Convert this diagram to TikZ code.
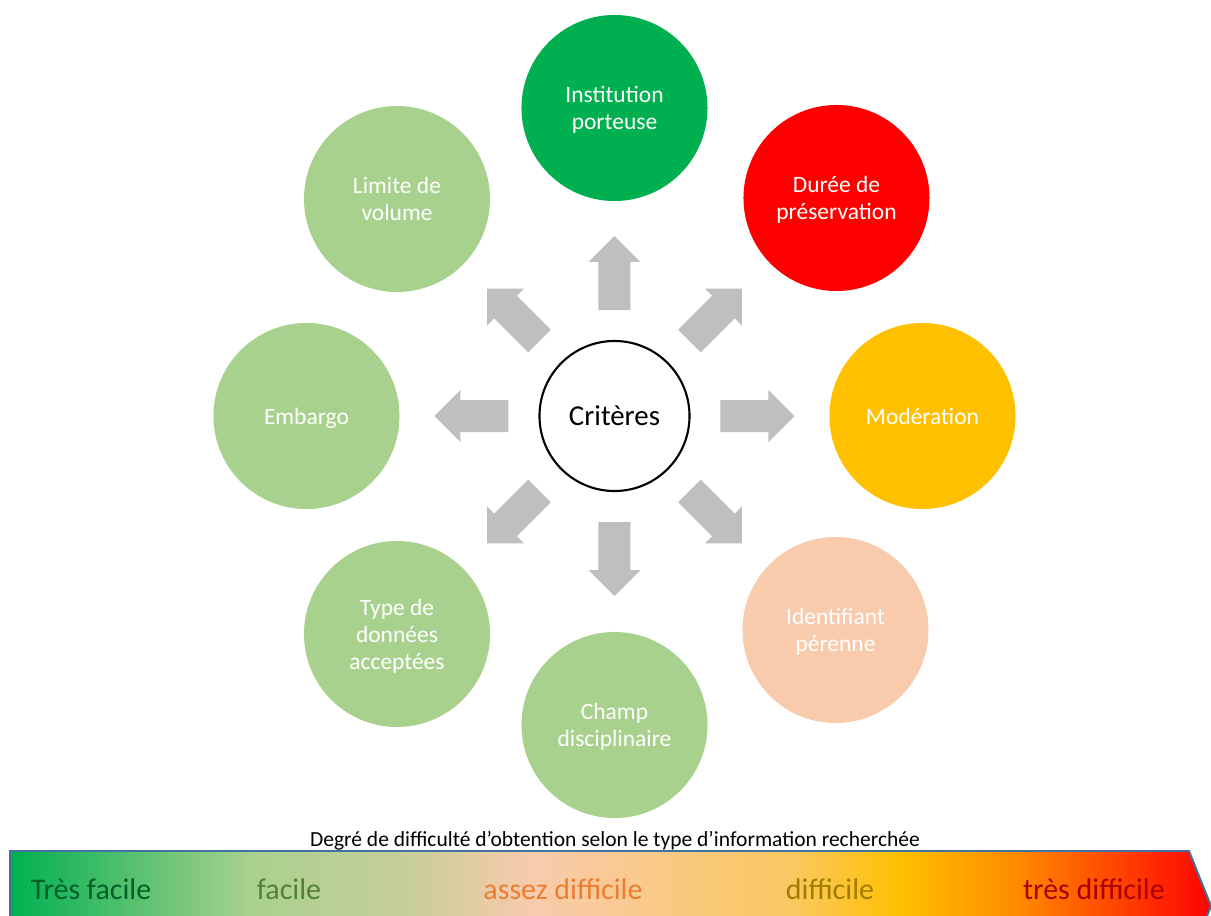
\documentclass[tikz,border=0pt]{standalone}
\usepackage{fontspec}
\setmainfont{Carlito}
\usetikzlibrary{positioning}
\definecolor{easyGreen}{RGB}{0,176,80}
\definecolor{softGreen}{RGB}{169,209,142}
\definecolor{peach}{RGB}{248,203,173}
\definecolor{gold}{RGB}{255,192,0}
\definecolor{arrowGray}{RGB}{191,191,191}
\definecolor{barBlue}{RGB}{65,113,156}
\definecolor{lblVeryEasy}{RGB}{0,97,40}
\definecolor{lblEasy}{RGB}{84,130,53}
\definecolor{lblFair}{RGB}{237,125,49}
\definecolor{lblHard}{RGB}{160,125,0}
\definecolor{lblVeryHard}{RGB}{170,0,0}

\begin{document}
\begin{tikzpicture}[
  x=0.025cm, y=0.025cm,
  crit/.style={circle, minimum size=4.65cm, inner sep=0pt, align=center,
               text depth=0pt, text=white, font=\fontsize{16.7}{19.2}\selectfont},
  centre/.style={circle, draw, line width=1.5pt, fill=white, minimum size=3.75cm,
                 font=\fontsize{20.5}{24}\selectfont},
  blockarrow/.style={fill=arrowGray},
  level/.style={font=\fontsize{21.3}{24}\selectfont, anchor=center}
]
  \useasboundingbox (-614.5,-499) rectangle (596.5,416);

  \node[centre] (crit) at (0,0) {Critères};

  % criteria, clockwise from the top
  \node[crit, fill=easyGreen] (inst)  at (90:308)       {Institution\\porteuse};
  \node[crit, fill=red]       (duree) at (222,218)      {Durée de\\préservation};
  \node[crit, fill=gold]      (moder) at (0:308)        {Modération};
  \node[crit, fill=peach]     (ident) at (221,-214)     {Identifiant\\pérenne};
  \node[crit, fill=softGreen] (champ) at (-90:309)      {Champ\\disciplinaire};
  \node[crit, fill=softGreen] (type)  at (-217.5,-218)  {Type de\\données\\acceptées};
  \node[crit, fill=softGreen] (embar) at (180:308)      {Embargo};
  \node[crit, fill=softGreen] (limit) at (-217.5,217)   {Limite de\\volume};

  % block arrows
  \foreach \a in {0,45,...,315}
    \fill[blockarrow, rotate=\a]
      (106,-16) -- (154,-16) -- (154,-26) -- (180,0)
      -- (154,26) -- (154,16) -- (106,16) -- cycle;

  % difficulty scale
  \node[font=\fontsize{15.3}{18}\selectfont] (caption) at (0.5,-425)
    {Degré de difficulté d’obtention selon le type d’information recherchée};

  \begin{scope}
    \clip (-614.5,-499) rectangle (596.5,416);
    \begin{scope}
      \clip (-604.5,-435) -- (574.5,-435) -- (596.5,-490) -- (574.5,-545)
            -- (-604.5,-545) -- cycle;
      \fill[left color=easyGreen, right color=softGreen] (-605,-550) rectangle (-364,-430);
      \fill[left color=softGreen, right color={rgb,255:red,197;green,206;blue,152}] (-364.5,-550) rectangle (-214,-430);
      \fill[left color={rgb,255:red,197;green,206;blue,152}, right color=peach] (-214.5,-550) rectangle (-84,-430);
      \fill[left color=peach, right color={rgb,255:red,250;green,200;blue,95}] (-84.5,-550) rectangle (180,-430);
      \fill[left color={rgb,255:red,250;green,200;blue,95}, right color=gold] (179.5,-550) rectangle (285,-430);
      \fill[left color=gold, right color={rgb,255:red,255;green,140;blue,0}] (284.5,-550) rectangle (400,-430);
      \fill[left color={rgb,255:red,255;green,140;blue,0}, right color=red] (399.5,-550) rectangle (600,-430);
    \end{scope}
    \draw[barBlue, line width=1.4pt, line join=miter]
      (-604.5,-435) -- (574.5,-435) -- (596.5,-490) -- (574.5,-545)
      -- (-604.5,-545) -- cycle;
  \end{scope}

  \node[level, text=lblVeryEasy] (vEasy) at (-523.5,-473) {Très facile};
  \node[level, text=lblEasy]     (easy)  at (-325.5,-473) {facile};
  \node[level, text=lblFair]     (fair)  at (-51.5,-473)  {assez difficile};
  \node[level, text=lblHard]     (hard)  at (215.5,-473)  {difficile};
  \node[level, text=lblVeryHard] (vHard) at (479.5,-473)  {très difficile};
\end{tikzpicture}
\end{document}
